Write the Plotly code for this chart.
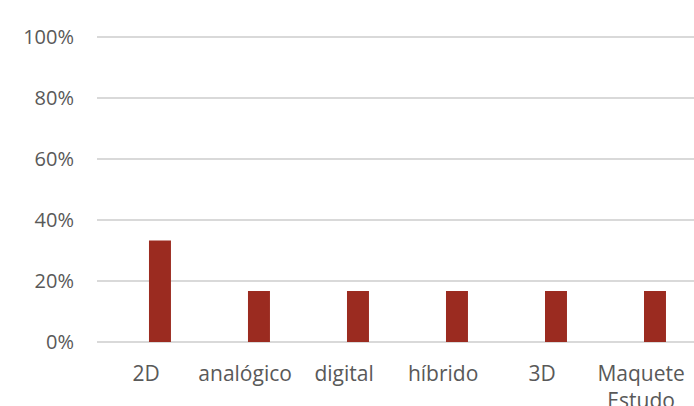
import plotly.graph_objects as go

# Share of responses per representation type
categories = ["2D", "analógico", "digital", "híbrido", "3D", "Maquete<br>Estudo"]
values = [0.333, 0.167, 0.167, 0.167, 0.167, 0.167]
y_ticks = [0, 0.2, 0.4, 0.6, 0.8, 1.0]
y_tick_labels = ["0%", "20%", "40%", "60%", "80%", "100%"]

text_color = "#595959"
grid_color = "#D9D9D9"
bar_color = "#9B2B20"

positions = list(range(len(categories)))
label_shift = 0.14  # category labels sit slightly left of their bars

fig = go.Figure(
    go.Bar(
        x=positions,
        y=values,
        width=0.222,
        marker=dict(color=bar_color, line=dict(width=0)),
    )
)

fig.update_layout(
    width=694,
    height=406,
    margin=dict(l=97, r=0, t=31, b=64, autoexpand=False),
    paper_bgcolor="white",
    plot_bgcolor="white",
    showlegend=False,
    font=dict(family="Open Sans", size=20, color=text_color),
)

fig.update_xaxes(
    range=[-0.636, 5.394],
    tickmode="array",
    tickvals=[p - label_shift for p in positions],
    ticktext=categories,
    showgrid=False,
    zeroline=False,
    showline=False,
    ticks="",
    automargin=False,
    ticklabelstandoff=17,
    ticklabeloverflow="allow",
    tickfont=dict(family="Open Sans", size=21, color=text_color),
)

fig.update_yaxes(
    range=[0, 1.0197],
    tickmode="array",
    tickvals=y_ticks,
    ticktext=y_tick_labels,
    showgrid=True,
    gridcolor=grid_color,
    gridwidth=1.5,
    zeroline=True,
    zerolinecolor=grid_color,
    zerolinewidth=1.5,
    showline=False,
    ticks="",
    automargin=False,
    ticklabelstandoff=22,
    tickfont=dict(family="Open Sans", size=20, color=text_color),
)

fig.write_html("out.html")
